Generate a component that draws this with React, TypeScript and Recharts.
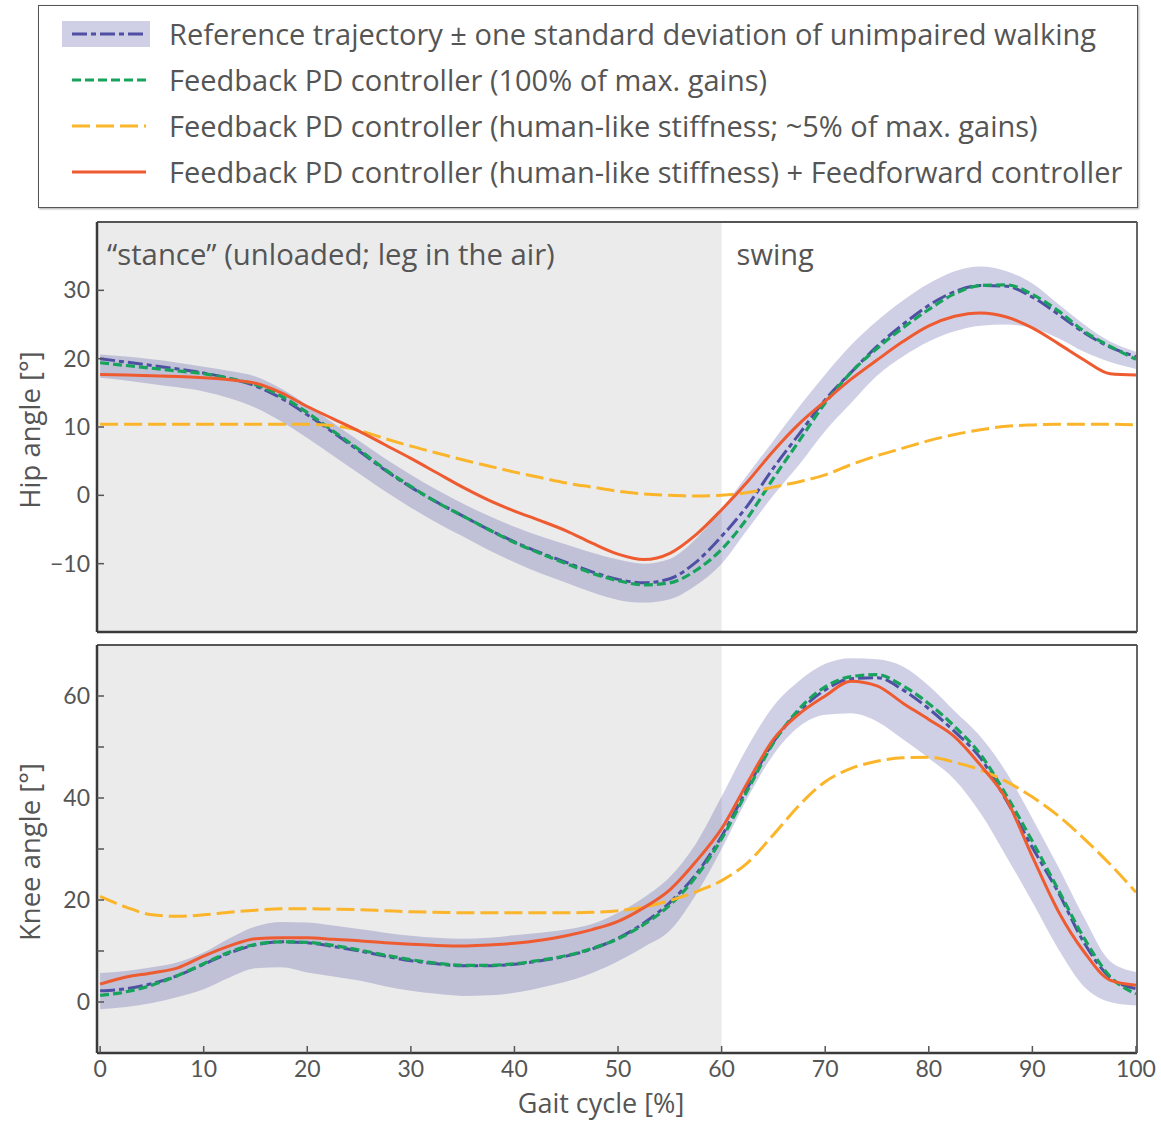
import { Area, ComposedChart, Label, Line, ReferenceArea, XAxis, YAxis } from 'recharts'

const gait = [
  0, 2.5, 5, 7.5, 10, 12.5, 15, 17.5, 20, 22.5, 25, 27.5, 30, 32.5, 35, 37.5, 40, 42.5, 45, 47.5, 50,
  52.5, 55, 57.5, 60, 62.5, 65, 67.5, 70, 72.5, 75, 77.5, 80, 82.5, 85, 87.5, 90, 92.5, 95, 97.5, 100,
]

// hip angle [deg]
const hipRef = [
  20.0, 19.5, 19.0, 18.5, 17.9, 17.1, 16.0, 14.2, 11.8, 9.2, 6.5, 3.7, 1.2, -1.0, -3.0, -5.0, -6.8, -8.4, -9.8, -11.2, -12.3,
  -12.8, -12.2, -9.8, -6.0, -1.5, 4.0, 9.0, 14.0, 18.0, 21.8, 25.0, 27.8, 29.8, 30.7, 30.6, 29.0, 26.5, 23.8, 21.7, 20.3,
]
const hipLo = [
  17.2, 16.8, 16.3, 15.8, 15.2, 14.2, 12.8, 10.8, 8.4, 5.8, 3.2, 0.6, -1.8, -4.0, -6.0, -8.0, -9.8, -11.4, -12.8, -14.2, -15.3,
  -15.7, -15.2, -13.2, -10.0, -5.0, 0.0, 4.5, 9.4, 13.5, 17.5, 20.3, 22.5, 24.0, 24.8, 25.0, 24.5, 23.0, 21.0, 19.5, 18.5,
]
const hipHi = [
  20.6, 20.3, 19.9, 19.4, 18.8, 18.2, 17.4, 15.6, 13.2, 10.6, 8.0, 5.4, 3.0, 0.8, -1.2, -3.0, -4.6, -6.0, -7.2, -8.4, -9.4,
  -10.0, -9.3, -6.4, -2.0, 3.0, 8.0, 13.0, 17.7, 22.0, 25.5, 28.5, 31.0, 32.8, 33.5, 32.8, 31.0, 28.0, 25.0, 22.5, 21.0,
]
const hipFull = [
  19.4, 19.0, 18.6, 18.2, 17.8, 17.1, 16.2, 14.5, 12.1, 9.4, 6.7, 3.8, 1.3, -1.0, -3.0, -5.0, -6.9, -8.5, -10.0, -11.4, -12.5,
  -13.1, -12.8, -11.0, -7.9, -3.3, 2.5, 8.0, 13.5, 18.0, 21.5, 24.5, 27.2, 29.5, 30.7, 30.8, 29.4, 27.0, 24.0, 21.8, 19.9,
]
const hipLow = [
  10.4, 10.4, 10.4, 10.4, 10.4, 10.4, 10.4, 10.4, 10.4, 10.2, 9.5, 8.3, 7.2, 6.2, 5.2, 4.3, 3.4, 2.6, 1.8, 1.2, 0.6,
  0.2, 0.0, -0.1, 0.0, 0.4, 1.2, 2.0, 3.0, 4.5, 5.8, 6.9, 8.0, 8.9, 9.6, 10.1, 10.3, 10.4, 10.4, 10.4, 10.3,
]
const hipFF = [
  17.7, 17.6, 17.5, 17.4, 17.2, 16.9, 16.4, 15.0, 13.0, 11.2, 9.4, 7.4, 5.4, 3.3, 1.2, -0.7, -2.3, -3.7, -5.2, -7.0, -8.6,
  -9.4, -8.5, -5.8, -2.1, 2.0, 6.5, 10.5, 13.8, 17.0, 19.8, 22.5, 24.8, 26.2, 26.7, 26.1, 24.5, 22.2, 19.8, 17.8, 17.6,
]

// knee angle [deg]
const kneeRef = [
  2.2, 2.6, 3.6, 5.2, 7.4, 9.6, 11.2, 11.8, 11.6, 10.9, 10.0, 9.0, 8.1, 7.5, 7.1, 7.1, 7.4, 8.1, 9.0, 10.4, 12.5,
  15.5, 19.5, 25.0, 32.5, 42.0, 51.0, 57.0, 61.2, 63.4, 63.6, 61.2, 57.5, 53.0, 47.8, 39.5, 30.3, 21.5, 11.6, 4.8, 2.6,
]
const kneeLo = [
  -1.4, -1.0, -0.2, 1.0, 2.5, 4.8, 6.6, 6.8, 5.8, 5.0, 4.2, 3.1, 2.2, 1.6, 1.2, 1.3, 1.8, 2.8, 4.0, 5.7, 8.0,
  10.8, 14.0, 21.0, 30.0, 40.0, 48.5, 54.0, 56.3, 56.6, 55.0, 51.5, 47.8, 43.6, 37.0, 28.5, 19.6, 10.4, 3.0, 0.0, -0.7,
]
const kneeHi = [
  5.7, 6.1, 6.8, 7.8, 9.7, 12.5, 14.8, 15.7, 15.6, 15.0, 14.3, 13.6, 13.0, 12.6, 12.4, 12.6, 13.1, 13.6, 14.2, 15.3, 17.5,
  20.5, 24.5, 31.0, 40.3, 50.0, 58.0, 63.0, 66.3, 67.4, 67.2, 65.8, 62.0, 57.0, 52.0, 45.0, 36.0, 26.5, 16.5, 8.0, 5.9,
]
const kneeFull = [
  1.3, 2.0, 3.3, 5.2, 7.5, 9.8, 11.3, 11.8, 11.7, 11.1, 10.2, 9.2, 8.3, 7.6, 7.2, 7.2, 7.5, 8.2, 9.1, 10.5, 12.4,
  15.2, 19.0, 24.5, 32.0, 41.5, 50.8, 57.5, 61.8, 63.8, 64.2, 62.0, 58.5, 54.0, 48.5, 40.5, 31.5, 22.0, 12.5, 5.0, 1.6,
]
const kneeLow = [
  20.7, 18.6, 17.1, 16.8, 17.1, 17.6, 18.0, 18.3, 18.3, 18.2, 18.1, 17.9, 17.7, 17.6, 17.5, 17.5, 17.5, 17.5, 17.5, 17.6, 17.9,
  18.6, 19.9, 21.6, 23.8, 27.3, 32.8, 38.6, 43.2, 45.8, 47.2, 47.9, 48.0, 47.0, 45.5, 43.2, 40.2, 36.5, 32.0, 27.0, 21.5,
]
const kneeFF = [
  3.5, 4.9, 5.7, 6.7, 9.0, 11.0, 12.4, 12.6, 12.6, 12.3, 12.0, 11.6, 11.3, 11.1, 11.0, 11.2, 11.5, 12.1, 13.0, 14.2, 15.8,
  18.5, 22.0, 27.5, 34.0, 43.0, 51.5, 56.5, 60.0, 62.9, 62.0, 58.6, 55.4, 52.0, 46.4, 39.7, 28.5, 17.8, 9.8, 4.3, 3.3,
]

const xTicks = [0, 10, 20, 30, 40, 50, 60, 70, 80, 90, 100]
const hipTicks = [-10, 0, 10, 20, 30]
const kneeTicks = [0, 10, 20, 30, 40, 50, 60]

const legendLabels = [
  'Reference trajectory ± one standard deviation of unimpaired walking',
  'Feedback PD controller (100% of max. gains)',
  'Feedback PD controller (human-like stiffness; ~5% of max. gains)',
  'Feedback PD controller (human-like stiffness) + Feedforward controller',
]

const C = {
  ref: '#4f4fa3',
  band: '#4d4da3',
  full: '#17a35b',
  low: '#fbb52b',
  ff: '#ef5b30',
  stance: '#ebebeb',
  text: '#555555',
}
const FONT = '"Open Sans", sans-serif'
const TICK_FONT = 'Lato, "Open Sans", sans-serif'

const hipData = gait.map((x, i) => ({
  x,
  band: [hipLo[i], hipHi[i]],
  ref: hipRef[i],
  full: hipFull[i],
  low: hipLow[i],
  ff: hipFF[i],
}))
const kneeData = gait.map((x, i) => ({
  x,
  band: [kneeLo[i], kneeHi[i]],
  ref: kneeRef[i],
  full: kneeFull[i],
  low: kneeLow[i],
  ff: kneeFF[i],
}))

function renderSeries() {
  return [
    <Area key="band" type="monotone" dataKey="band" stroke="none" fill={C.band} fillOpacity={0.27} isAnimationActive={false} />,
    <Line key="ref" type="monotone" dataKey="ref" stroke={C.ref} strokeWidth={3} strokeDasharray="15 4 5 4" dot={false} isAnimationActive={false} />,
    <Line key="full" type="monotone" dataKey="full" stroke={C.full} strokeWidth={3.2} strokeDasharray="9 4" dot={false} isAnimationActive={false} />,
    <Line key="low" type="monotone" dataKey="low" stroke={C.low} strokeWidth={3} strokeDasharray="18 6" dot={false} isAnimationActive={false} />,
    <Line key="ff" type="monotone" dataKey="ff" stroke={C.ff} strokeWidth={3} dot={false} isAnimationActive={false} />,
  ]
}

function Panel({
  data,
  domain,
  yTicks,
  labelled,
  height,
  bottomHeight,
  title,
  showLabels,
  xLabels,
}: {
  data: typeof hipData
  domain: [number, number]
  yTicks: number[]
  labelled: number[]
  height: number
  bottomHeight: number
  title: string
  showLabels: boolean
  xLabels: boolean
}) {
  const tickText = { fill: C.text, fontSize: 23, fontFamily: TICK_FONT }
  const tl = { stroke: '#555', strokeWidth: 1.5 }
  return (
    <ComposedChart width={1161} height={height} data={data} margin={{ top: 0, right: 0, bottom: 0, left: 0 }}>
      <ReferenceArea
        x1={-0.3}
        x2={60}
        fill={C.stance}
        fillOpacity={1}
        stroke="none"
        ifOverflow="hidden"
        label={
          showLabels
            ? (p: any) => {
                const vb = p.viewBox || {}
                return (
                  <g>
                    <text x={vb.x + 10} y={vb.y + 43} fill={C.text} fontSize={29.3} fontFamily={FONT}>
                      “stance” (unloaded; leg in the air)
                    </text>
                    <text x={vb.x + vb.width + 15} y={vb.y + 43} fill={C.text} fontSize={29} fontFamily={FONT}>
                      swing
                    </text>
                  </g>
                )
              }
            : undefined
        }
      />
      <XAxis
        dataKey="x"
        type="number"
        domain={[-0.3, 100.1]}
        ticks={xTicks}
        allowDataOverflow
        height={bottomHeight}
        tickSize={-7}
        tickMargin={15}
        tick={xLabels ? tickText : false}
        tickLine={tl}
        axisLine={{ stroke: '#3a3a3a', strokeWidth: 2.5 }}
      >
        {xLabels && (
          <Label
            content={(p: any) => {
              const vb = p.viewBox || {}
              return (
                <text x={vb.x + vb.width / 2 - 16} y={vb.y + 60} textAnchor="middle" fill={C.text} fontSize={27} fontFamily={FONT}>
                  Gait cycle [%]
                </text>
              )
            }}
          />
        )}
      </XAxis>
      <XAxis
        xAxisId="top"
        dataKey="x"
        type="number"
        orientation="top"
        domain={[-0.3, 100.1]}
        ticks={xTicks}
        allowDataOverflow
        height={7}
        tickSize={-7}
        tick={false}
        tickLine={tl}
        axisLine={{ stroke: '#555', strokeWidth: 1.8 }}
      />
      <YAxis
        domain={domain}
        ticks={yTicks}
        allowDataOverflow
        width={97}
        tickSize={-7}
        tickMargin={14}
        tick={tickText}
        tickFormatter={(v: number) => (labelled.includes(v) ? String(v).replace('-', '\u2212') : '')}
        tickLine={tl}
        axisLine={{ stroke: '#3a3a3a', strokeWidth: 2.5 }}
      >
        <Label
          content={(p: any) => {
            const vb = p.viewBox || {}
            const cx = 29
            const cy = vb.y + vb.height / 2 + 3
            return (
              <text x={cx} y={cy} transform={`rotate(-90 ${cx} ${cy})`} textAnchor="middle" dominantBaseline="central" fill={C.text} fontSize={27.5} fontFamily={FONT}>
                {title}
              </text>
            )
          }}
        />
      </YAxis>
      <YAxis
        yAxisId="right"
        orientation="right"
        domain={domain}
        ticks={yTicks}
        allowDataOverflow
        width={24}
        tickSize={-7}
        tick={false}
        tickLine={tl}
        axisLine={{ stroke: '#555', strokeWidth: 1.8 }}
      />
      {renderSeries()}
    </ComposedChart>
  )
}

function Swatch({ i }: { i: number }) {
  return (
    <svg width={100} height={30} style={{ display: 'block' }}>
      {i === 0 && <rect x={0} y={2} width={88} height={26} fill={C.band} fillOpacity={0.27} />}
      {i === 0 && <line x1={10} x2={84} y1={15} y2={15} stroke={C.ref} strokeWidth={3} strokeDasharray="15 4 5 4" />}
      {i === 1 && <line x1={10} x2={84} y1={15} y2={15} stroke={C.full} strokeWidth={3.2} strokeDasharray="9 4" />}
      {i === 2 && <line x1={10} x2={84} y1={15} y2={15} stroke={C.low} strokeWidth={3} strokeDasharray="18 6" />}
      {i === 3 && <line x1={10} x2={84} y1={15} y2={15} stroke={C.ff} strokeWidth={3} />}
    </svg>
  )
}

export default function App() {
  return (
    <div style={{ position: 'absolute', left: 0, top: 0, width: 1161, height: 1122, background: '#fff', fontFamily: FONT }}>
      <div
        style={{
          position: 'absolute',
          left: 38,
          top: 5,
          width: 1100,
          height: 203,
          boxSizing: 'border-box',
          border: '1.5px solid #555',
          boxShadow: '1px 1px 2px rgba(0,0,0,0.35)',
        }}
      >
        {legendLabels.map((t, i) => (
          <div key={t} style={{ position: 'absolute', left: 23, top: 13 + i * 46, height: 30, display: 'flex', alignItems: 'center' }}>
            <Swatch i={i} />
            <span style={{ marginLeft: 7, fontSize: 29, color: C.text, whiteSpace: 'nowrap', lineHeight: '30px' }}>{t}</span>
          </div>
        ))}
      </div>
      <div style={{ position: 'absolute', left: 0, top: 215 }}>
        <Panel
          data={hipData}
          domain={[-20, 40]}
          yTicks={hipTicks}
          labelled={hipTicks}
          height={425}
          bottomHeight={8}
          title="Hip angle [°]"
          showLabels
          xLabels={false}
        />
      </div>
      <div style={{ position: 'absolute', left: 0, top: 638 }}>
        <Panel
          data={kneeData}
          domain={[-10, 70]}
          yTicks={kneeTicks}
          labelled={[0, 20, 40, 60]}
          height={484}
          bottomHeight={69}
          title="Knee angle [°]"
          showLabels={false}
          xLabels
        />
      </div>
    </div>
  )
}
